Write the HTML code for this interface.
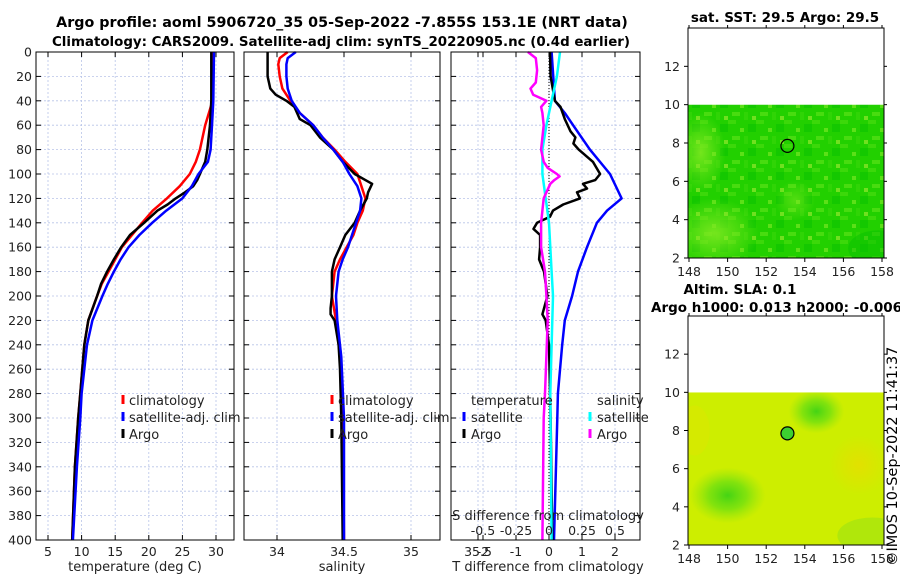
<!DOCTYPE html>
<html><head><meta charset="utf-8"><style>
body{margin:0;background:#fff;}
svg{display:block;font-family:"DejaVu Sans","Liberation Sans",sans-serif;}
</style></head><body>
<svg id="c" width="900" height="580" viewBox="0 0 900 580" xmlns="http://www.w3.org/2000/svg">
<defs>
<radialGradient id="gTop1" cx="0.5" cy="0.5" r="0.5"><stop offset="0" stop-color="#7ee820" stop-opacity="0.9"/><stop offset="1" stop-color="#7ee820" stop-opacity="0"/></radialGradient>
<radialGradient id="gBotG" cx="0.5" cy="0.5" r="0.5"><stop offset="0" stop-color="#44d414"/><stop offset="0.5" stop-color="#70e010" stop-opacity="0.8"/><stop offset="1" stop-color="#90e410" stop-opacity="0"/></radialGradient>
<radialGradient id="gBotO" cx="0.5" cy="0.5" r="0.5"><stop offset="0" stop-color="#f0d800"/><stop offset="1" stop-color="#f0d800" stop-opacity="0"/></radialGradient>
<pattern id="dots" width="28" height="24" patternUnits="userSpaceOnUse">
<rect width="28" height="24" fill="#22d000"/>
<rect x="0" y="0" width="8" height="4" fill="#3cd80a"/>
<rect x="12" y="8" width="4" height="4" fill="#5ce018"/>
<rect x="20" y="4" width="8" height="8" fill="#14c800"/>
<rect x="4" y="16" width="8" height="4" fill="#48dc10"/>
<rect x="16" y="16" width="4" height="8" fill="#30d406"/>
<rect x="24" y="20" width="4" height="4" fill="#70e020"/>
</pattern>
</defs>
<text x="342" y="27" text-anchor="middle" font-weight="bold" font-size="14.3">Argo profile: aoml 5906720_35 05-Sep-2022 -7.855S 153.1E (NRT data)</text>
<text x="341" y="46" text-anchor="middle" font-weight="bold" font-size="13.4">Climatology: CARS2009. Satellite-adj clim: synTS_20220905.nc (0.4d earlier)</text>
<g id="plots"></g>
<text transform="translate(897,566) rotate(-90)" font-size="14.5">©IMOS 10-Sep-2022 11:41:37</text>
</svg>
<script>
// ---- data ----
const depthTemp = [0,40,60,80,90,100,110,120,130,140,150,160,170,180,190,200,220,240,280,300,340,400];
const tempClim  = [29.5,29.5,28.4,27.6,27.0,26.1,24.6,22.7,20.6,19.0,17.5,16.0,15.0,14.0,13.0,12.3,11.0,10.4,9.8,9.5,9.0,8.6];
const tempSat   = [29.7,29.6,29.4,29.2,28.8,27.4,26.4,25.0,22.6,20.5,18.6,17.0,15.8,14.8,13.9,13.1,11.6,10.8,10.0,9.8,9.3,8.7];
const depthArgoT = [0,40,60,80,90,100,105,110,115,120,125,130,140,150,160,170,180,190,200,220,240,280,300,340,400];
const tempArgo   = [29.3,29.3,29.1,28.7,28.4,27.6,27.2,26.6,25.4,24.0,22.8,21.3,19.3,17.2,15.9,14.8,13.8,12.9,12.3,11.0,10.4,9.8,9.5,9.0,8.6];

const depthSal = [0,5,10,20,30,40,50,60,70,80,90,100,110,120,130,140,150,160,170,180,200,220,250,300,400];
const salClim  = [34.08,34.02,34.01,34.02,34.04,34.10,34.17,34.27,34.34,34.43,34.51,34.60,34.63,34.66,34.64,34.60,34.57,34.52,34.47,34.43,34.41,34.44,34.47,34.49,34.50];
const salSat   = [34.14,34.08,34.07,34.07,34.08,34.11,34.17,34.27,34.34,34.42,34.49,34.54,34.60,34.63,34.62,34.59,34.56,34.53,34.49,34.46,34.44,34.45,34.48,34.50,34.50];
const depthArgoS = [0,20,30,35,40,45,55,60,70,80,90,100,105,108,115,120,130,140,150,160,170,180,190,200,210,215,220,240,260,300,400];
const salArgo    = [33.93,33.93,33.95,33.99,34.07,34.13,34.17,34.25,34.32,34.42,34.49,34.58,34.66,34.71,34.68,34.67,34.62,34.58,34.51,34.47,34.43,34.41,34.41,34.41,34.40,34.40,34.43,34.46,34.47,34.48,34.49];

const depthDiffT = [0,40,50,60,80,100,120,130,140,160,180,200,220,240,280,300,400];
const tDiffSat   = [0.08,0.18,0.48,0.73,1.24,1.85,2.2,1.76,1.45,1.15,0.88,0.7,0.48,0.4,0.27,0.25,0.15];
const depthDiffTA = [0,20,40,45,55,65,70,75,80,90,100,105,108,112,115,120,125,130,135,140,145,150,160,170,180,200,215,220,240,300,400];
const tDiffArgo   = [0.03,0.05,0.18,0.35,0.48,0.65,0.8,0.74,0.9,1.33,1.55,1.4,1.03,1.15,0.85,0.94,0.43,0.12,0.03,-0.36,-0.47,-0.27,-0.27,-0.3,-0.15,-0.05,-0.2,-0.1,0.0,0.05,0.1];
const depthDiffS = [0,20,40,60,80,100,120,140,160,180,200,220,280,400];
const sDiffSat   = [0.083,0.06,0.02,-0.02,-0.05,-0.05,-0.025,0.0,0.01,0.02,0.03,0.025,0.01,0.02];
const depthDiffSA = [0,5,15,25,30,35,40,45,50,60,70,80,90,95,100,102,105,108,115,120,140,160,180,200,220,280,300,400];
const sDiffArgo   = [-0.16,-0.1,-0.09,-0.1,-0.14,-0.12,-0.02,-0.06,-0.05,-0.04,-0.05,-0.06,-0.04,-0.01,0.06,0.08,0.04,0.01,-0.02,-0.04,-0.06,-0.06,-0.03,-0.02,-0.01,-0.03,-0.04,-0.05];

const depthTicks = [0,20,40,60,80,100,120,140,160,180,200,220,240,260,280,300,320,340,360,380,400];
const tempTicks = [5,10,15,20,25,30];
const salTicks = [34,34.5,35,35.5];
const salTickLabels = ["34","34.5","35","35.5"];
const tDiffTicks = [-2,-1,0,1,2];
const sDiffTicks = [-0.5,-0.25,0,0.25,0.5];
const mapLonTicks = [148,150,152,154,156,158];
const mapLatTicks = [2,4,6,8,10,12];
const argoLon = 153.1, argoLat = 7.85;

// ---- helpers ----
const NS="http://www.w3.org/2000/svg";
const root=document.getElementById('plots');
function mk(tag,attrs,parent){const e=document.createElementNS(NS,tag);for(const k in attrs)e.setAttribute(k,attrs[k]);(parent||root).appendChild(e);return e;}
const Y0=52,Y1=540;
const yD=d=>Y0+(d/400)*(Y1-Y0);
function lin(d0,d1,r0,r1){return v=>r0+(v-d0)/(d1-d0)*(r1-r0);}

function panel(name,x0,x1,xs,xticks,xlabels,showY){
  const g=mk('g',{});
  
  
  for(const d of depthTicks){ mk('line',{x1:x0,x2:x1,y1:yD(d),y2:yD(d),stroke:'#b8c4e8','stroke-width':0.8,'stroke-dasharray':'2,2'},g); }
  xticks.forEach(v=>{ mk('line',{x1:xs(v),x2:xs(v),y1:Y0,y2:Y1,stroke:'#b8c4e8','stroke-width':0.8,'stroke-dasharray':'2,2'},g); });
  for(const d of depthTicks){
    mk('line',{x1:x0,x2:x0+5,y1:yD(d),y2:yD(d),stroke:'#000'},g);
    mk('line',{x1:x1-5,x2:x1,y1:yD(d),y2:yD(d),stroke:'#000'},g);
    if(showY){const t=mk('text',{x:x0-4,y:yD(d)+4.5,'text-anchor':'end','font-size':12.5,fill:'#222'},g);t.textContent=d;
      
      }
  }
  xticks.forEach((v,i)=>{
    mk('line',{x1:xs(v),x2:xs(v),y1:Y1,y2:Y1-5,stroke:'#000'},g);
    mk('line',{x1:xs(v),x2:xs(v),y1:Y0,y2:Y0+5,stroke:'#000'},g);
    const t=mk('text',{x:xs(v),y:556,'text-anchor':'middle','font-size':12.5,fill:'#222'},g);t.textContent=xlabels[i];
    
    
  });
  return g;
}
function frame(g,x0,x1){mk('rect',{x:x0,y:Y0,width:x1-x0,height:Y1-Y0,fill:'none',stroke:'#000','stroke-width':1},g);}
function line(g,xs,vals,depths,color,name,w){
  const p=vals.map((v,i)=>(i?'L':'M')+xs(v).toFixed(1)+','+yD(depths[i]).toFixed(1)).join('');
  const e=mk('path',{d:p,fill:'none',stroke:color,'stroke-width':w||2.5,'stroke-linejoin':'round'},g);
  
  
}
function txt(g,x,y,s,name,opt){const t=mk('text',Object.assign({x:x,y:y,'font-size':13,fill:'#222'},opt||{}),g);t.textContent=s;
  
  return t;}
function legendEntry(g,mx,tx,y,color,label,name){
  mk('line',{x1:mx,x2:mx,y1:y-10,y2:y-1,stroke:color,'stroke-width':3},g);
  txt(g,tx,y,label,name);
}

// ---- panel 1: temperature ----
{const x0=36,x1=234,xs=lin(5,30,48,216);
 const g=panel('temperature-panel',x0,x1,xs,tempTicks,tempTicks.map(String),true);
 line(g,xs,tempClim,depthTemp,'#f00','climatology-temp-line');
 line(g,xs,tempArgo,depthArgoT,'#000','argo-temp-line');
 line(g,xs,tempSat,depthTemp,'#00f','satellite-temp-line');
 frame(g,x0,x1);
 txt(g,135,571,'temperature (deg C)','x-axis-title-temperature',{'text-anchor':'middle'});
 legendEntry(g,123,129,405,'#f00','climatology','legend-climatology');
 legendEntry(g,123,129,422,'#00f','satellite-adj. clim','legend-satellite');
 legendEntry(g,123,129,439,'#000','Argo','legend-argo');
}
// ---- panel 2: salinity ----
{const x0=244,x1=440,xs=lin(34,35,277,411);
 const g=panel('salinity-panel',x0,x1,xs,salTicks,salTickLabels,false);
 line(g,xs,salClim,depthSal,'#f00','climatology-sal-line');
 line(g,xs,salArgo,depthArgoS,'#000','argo-sal-line');
 line(g,xs,salSat,depthSal,'#00f','satellite-sal-line');
 frame(g,x0,x1);
 txt(g,342,571,'salinity','x-axis-title-salinity',{'text-anchor':'middle'});
 legendEntry(g,332,338,405,'#f00','climatology','legend-climatology-2');
 legendEntry(g,332,338,422,'#00f','satellite-adj. clim','legend-satellite-2');
 legendEntry(g,332,338,439,'#000','Argo','legend-argo-2');
}
// ---- panel 3: differences ----
{const x0=451,x1=640,xs=lin(0,1,549,582),ss=lin(0,1,549,681);
 const g=panel('difference-panel',x0,x1,xs,tDiffTicks,tDiffTicks.map(String),false);
 mk('line',{x1:xs(0),x2:xs(0),y1:Y0,y2:Y1,stroke:'#000','stroke-width':1,'stroke-dasharray':'1,2'},g);
 line(g,xs,tDiffSat,depthDiffT,'#00f','temp-diff-satellite-line');
 line(g,xs,tDiffArgo,depthDiffTA,'#000','temp-diff-argo-line');
 line(g,ss,sDiffSat,depthDiffS,'#0ff','sal-diff-satellite-line');
 line(g,ss,sDiffArgo,depthDiffSA,'#f0f','sal-diff-argo-line');
 frame(g,x0,x1);
 sDiffTicks.forEach(v=>{txt(g,ss(v),535,String(v),'s-diff-tick-label',{'text-anchor':'middle','font-size':12.5});});
 txt(g,548,520,'S difference from climatology','s-diff-axis-title',{'text-anchor':'middle'});
 txt(g,548,571,'T difference from climatology','x-axis-title-t-diff',{'text-anchor':'middle'});
 txt(g,471,405,'temperature','legend-title-temperature');
 txt(g,597,405,'salinity','legend-title-salinity');
 legendEntry(g,464,471,422,'#00f','satellite','legend-t-satellite');
 legendEntry(g,464,471,439,'#000','Argo','legend-t-argo');
 legendEntry(g,590,597,422,'#0ff','satellite','legend-s-satellite');
 legendEntry(g,590,597,439,'#f0f','Argo','legend-s-argo');
}
// ---- maps ----
function map(name,yTop,yBot,kind,title1,title2){
  const x0=688,x1=884;
  const lx=lin(148,158,689,882);
  const ly=lin(2,14,yBot,yTop);
  const g=mk('g',{});
  
  
  const dy=ly(10), h=ly(2)-ly(10);
  const clip=mk('clipPath',{id:'clip-'+kind},g);
  mk('rect',{x:x0,y:dy,width:x1-x0,height:h},clip);
  const inner=mk('g',{'clip-path':'url(#clip-'+kind+')'},g);
  if(kind==='sst'){
    mk('rect',{x:x0,y:dy,width:x1-x0,height:h,fill:'url(#dots)'},inner);
    mk('ellipse',{cx:lx(149.3),cy:ly(3.3),rx:45,ry:35,fill:'url(#gTop1)'},inner);
    mk('ellipse',{cx:lx(148.6),cy:ly(7.5),rx:25,ry:40,fill:'url(#gTop1)'},inner);
    mk('ellipse',{cx:lx(153.5),cy:ly(5),rx:20,ry:20,fill:'url(#gTop1)',opacity:0.6},inner);
    mk('ellipse',{cx:lx(157.8),cy:ly(2.5),rx:30,ry:18,fill:'#08c000',opacity:0.5},inner);
  } else {
    mk('rect',{x:x0,y:dy,width:x1-x0,height:h,fill:'#cdee00'},inner);
    mk('ellipse',{cx:lx(150),cy:ly(4.6),rx:38,ry:28,fill:'url(#gBotG)'},inner);
    mk('ellipse',{cx:lx(154.6),cy:ly(9),rx:28,ry:22,fill:'url(#gBotG)'},inner);
    mk('ellipse',{cx:lx(156.8),cy:ly(6.2),rx:30,ry:30,fill:'url(#gBotO)',opacity:0.6},inner);
    mk('ellipse',{cx:lx(157.5),cy:ly(2.5),rx:35,ry:18,fill:'#a4e410',opacity:0.7},inner);
    mk('ellipse',{cx:lx(148.3),cy:ly(8),rx:15,ry:25,fill:'#e0e400',opacity:0.4},inner);
  }
  const c=mk('circle',{cx:lx(argoLon),cy:ly(argoLat),r:6.5,fill:kind==='sst'?'none':'#3cd030',stroke:'#000','stroke-width':1.2},g);
  
  
  mk('rect',{x:x0,y:yTop,width:x1-x0,height:yBot-yTop,fill:'none',stroke:'#000'},g);
  mapLonTicks.forEach(v=>{mk('line',{x1:lx(v),x2:lx(v),y1:yBot,y2:yBot+4,stroke:'#000'},g);
    mk('line',{x1:lx(v),x2:lx(v),y1:yTop,y2:yTop-3,stroke:'#000'},g);
    txt(g,lx(v),yBot+18,String(v),'map-lon-tick',{'text-anchor':'middle','font-size':12.5});});
  mapLatTicks.forEach(v=>{mk('line',{x1:x0-4,x2:x0,y1:ly(v),y2:ly(v),stroke:'#000'},g);
    mk('line',{x1:x1,x2:x1+3,y1:ly(v),y2:ly(v),stroke:'#000'},g);
    txt(g,x0-8,ly(v)+4.5,String(v),'map-lat-tick',{'text-anchor':'end','font-size':12.5});});
  if(title2){txt(g,740,yTop-22,title1,'map-title',{'text-anchor':'middle','font-weight':'bold','font-size':13.5,fill:'#000'});
    txt(g,651,yTop-4,title2,'map-subtitle',{'font-weight':'bold','font-size':13.5,fill:'#000'});}
  else txt(g,785,yTop-6,title1,'map-title',{'text-anchor':'middle','font-weight':'bold','font-size':13.5,fill:'#000'});
}
map('sst-map',28,258,'sst','sat. SST: 29.5 Argo: 29.5');
map('sla-map',316,545,'sla','Altim. SLA: 0.1','Argo h1000: 0.013 h2000: -0.0069');
</script>
</body></html>
